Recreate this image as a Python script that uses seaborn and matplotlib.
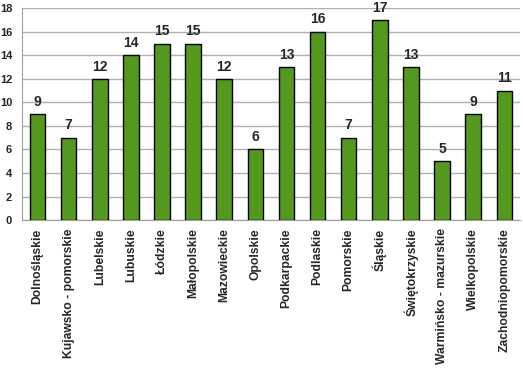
import pandas as pd
import seaborn as sns
from matplotlib import pyplot as plt

regions = ["Dolnośląskie", "Kujawsko - pomorskie", "Lubelskie", "Lubuskie", "Łódzkie",
           "Małopolskie", "Mazowieckie", "Opolskie", "Podkarpackie", "Podlaskie",
           "Pomorskie", "Śląskie", "Świętokrzyskie", "Warmińsko - mazurskie",
           "Wielkopolskie", "Zachodniopomorskie"]
counts = [9, 7, 12, 14, 15, 15, 12, 6, 13, 16, 7, 17, 13, 5, 9, 11]
y_ticks = [0, 2, 4, 6, 8, 10, 12, 14, 16, 18]

df = pd.DataFrame({"region": regions, "count": counts})

sns.set_style("white")
plt.rcParams["font.family"] = ["Liberation Sans", "DejaVu Sans"]
plt.rcParams["font.weight"] = "bold"

fig = plt.figure(figsize=(5.23, 3.73), dpi=100)
ax = fig.add_axes([0.042, 0.41, 0.952, 0.568])

sns.barplot(data=df, x="region", y="count", color="#55981e", saturation=1,
            edgecolor="black", linewidth=1, width=0.5, ax=ax)

for i, v in enumerate(counts):
    ax.text(i, v + 0.45, str(v), ha="center", va="bottom", fontsize=10, fontweight="bold")

ax.set_ylim(0, 18)
ax.set_xlim(-0.5, len(regions) - 0.5)
ax.set_yticks(y_ticks)
ax.set_yticklabels([str(t) for t in y_ticks], fontsize=8, fontweight="bold")
ax.yaxis.grid(True, color="#b0b0b0", linewidth=1)
ax.set_axisbelow(True)
ax.set_xlabel("")
ax.set_ylabel("")

ax.set_xticks(range(len(regions)))
ax.set_xticklabels(regions, rotation=90, fontsize=8.7, fontweight="bold")
ax.tick_params(axis="x", length=0, pad=6)
ax.tick_params(axis="y", length=0, pad=7)
# small ticks between categories
ax.set_xticks([i - 0.5 for i in range(len(regions) + 1)], minor=True)
ax.tick_params(axis="x", which="minor", length=4, color="#a0a0a0")

for side in ["top", "right"]:
    ax.spines[side].set_visible(False)
ax.spines["left"].set_color("#a0a0a0")
ax.spines["bottom"].set_color("#a0a0a0")

plt.savefig("out.png", dpi=100)
plt.close()
